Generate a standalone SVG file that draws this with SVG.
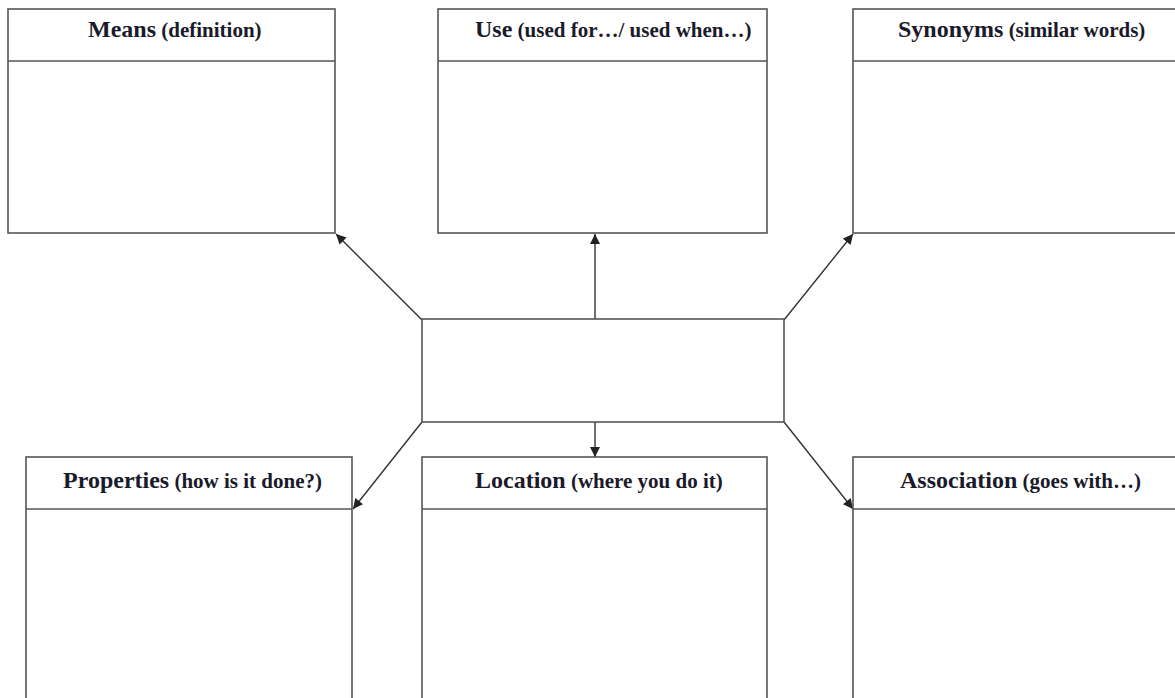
<svg xmlns="http://www.w3.org/2000/svg" width="1175" height="698" viewBox="0 0 1175 698">
<defs>
<marker id="ah" viewBox="0 0 10 10" refX="10" refY="5" markerWidth="11" markerHeight="10" markerUnits="userSpaceOnUse" orient="auto">
<path d="M0,0 L10,5 L0,10 z" fill="#222"/>
</marker>
<style>
.box{fill:#fff;stroke:#555;stroke-width:1.6}
.sep{stroke:#555;stroke-width:1.6}
.t{font-family:"Liberation Serif","Times New Roman",serif;font-weight:bold;fill:#1a1a2a}
.big{font-size:24px}
.small{font-size:21px}
.con{stroke:#333;stroke-width:1.4;fill:none;marker-end:url(#ah)}
</style>
</defs>
<rect width="1175" height="698" fill="#fff"/>
<g id="connectors">
<line class="con" x1="422" y1="320" x2="336" y2="234"/>
<line class="con" x1="595" y1="320" x2="595" y2="234"/>
<line class="con" x1="784" y1="320" x2="853" y2="234"/>
<line class="con" x1="422" y1="422" x2="353" y2="509"/>
<line class="con" x1="595" y1="422" x2="595" y2="457"/>
<line class="con" x1="784" y1="422" x2="853" y2="509"/>
</g>
<g id="center">
<rect class="box" x="422" y="319" width="362" height="103"/>
</g>
<g id="means">
<rect class="box" x="8" y="9" width="327" height="224"/>
<line class="sep" x1="8" y1="61" x2="335" y2="61"/>
<text class="t" x="88" y="37"><tspan class="big">Means</tspan><tspan class="small"> (definition)</tspan></text>
</g>
<g id="use">
<rect class="box" x="438" y="9" width="329" height="224"/>
<line class="sep" x1="438" y1="61" x2="767" y2="61"/>
<text class="t" x="475" y="37"><tspan class="big">Use</tspan><tspan class="small"> (used for…/ used when…)</tspan></text>
</g>
<g id="synonyms">
<rect class="box" x="853" y="9" width="340" height="224"/>
<line class="sep" x1="853" y1="61" x2="1175" y2="61"/>
<text class="t" x="898" y="37"><tspan class="big">Synonyms</tspan><tspan class="small"> (similar words)</tspan></text>
</g>
<g id="properties">
<rect class="box" x="26" y="457" width="326" height="260"/>
<line class="sep" x1="26" y1="509" x2="352" y2="509"/>
<text class="t" x="63" y="488"><tspan class="big">Properties</tspan><tspan class="small"> (how is it done?)</tspan></text>
</g>
<g id="location">
<rect class="box" x="422" y="457" width="345" height="260"/>
<line class="sep" x1="422" y1="509" x2="767" y2="509"/>
<text class="t" x="475" y="488"><tspan class="big">Location</tspan><tspan class="small"> (where you do it)</tspan></text>
</g>
<g id="association">
<rect class="box" x="853" y="457" width="340" height="260"/>
<line class="sep" x1="853" y1="509" x2="1175" y2="509"/>
<text class="t" x="900" y="488"><tspan class="big">Association</tspan><tspan class="small"> (goes with…)</tspan></text>
</g>
</svg>
